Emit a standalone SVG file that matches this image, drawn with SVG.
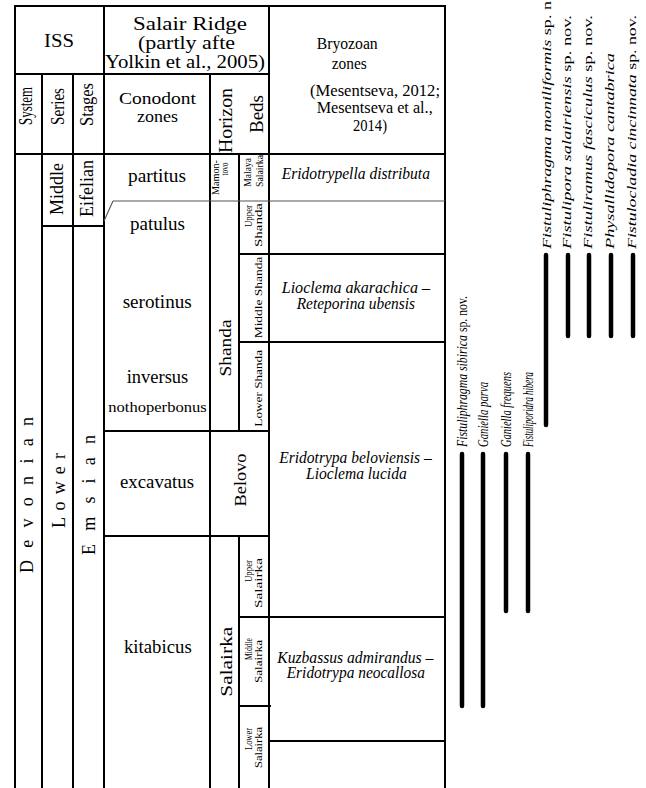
<svg xmlns="http://www.w3.org/2000/svg" width="646" height="788" viewBox="0 0 646 788">
<style>
text{font-family:"Liberation Serif","Times New Roman",serif;fill:#000}
.h{font-size:18px}
.h2{font-size:16px}
.z{font-size:18px}
.bz{font-size:16px;font-style:italic}
.ch{font-size:18px}
.ch2{font-size:16px}
.iss{font-size:18px}
.hz{font-size:17px}
.bd{font-size:11px}
.sm{font-size:10px}
.sp{font-size:13px}
.sp2{font-size:14px}
.it{font-style:italic}
.L{stroke:#000;stroke-width:2;fill:none}
.T{stroke:#555;stroke-width:1.1;fill:none}
.bar{stroke:#000;stroke-width:4.5;stroke-linecap:round}
</style>
<rect width="646" height="788" fill="#fff"/>
<g id="table-lines">
<path class="L" d="M15 788V6H445V788M104 6V788M269 6V788M15 74H269M42 74V788M73 74V788M210 74V788M15 154H445"/>
<path class="L" d="M42 226H104M104 431H269M104 536H269M239 154V431M239 536V788M239 254H445M239 342H445M239 617H445M239 706H271M269 741H445"/>
<path class="T" d="M113 201H445M104 221L113 201"/>
</g>
<g id="header">
<text class="h" x="44" y="46.7" textLength="30" lengthAdjust="spacingAndGlyphs">ISS</text>
<text class="h" x="133" y="30" textLength="114" lengthAdjust="spacingAndGlyphs">Salair Ridge</text>
<text class="h" x="138" y="49" textLength="97" lengthAdjust="spacingAndGlyphs">(partly afte</text>
<text class="h" x="105" y="68" textLength="160" lengthAdjust="spacingAndGlyphs">Yolkin et al., 2005)</text>
<text class="h2" x="316.7" y="49" textLength="61" lengthAdjust="spacingAndGlyphs">Bryozoan</text>
<text class="h2" x="331.7" y="68.5" textLength="35" lengthAdjust="spacingAndGlyphs">zones</text>
<text class="h2" x="310" y="95.5" textLength="130" lengthAdjust="spacingAndGlyphs">(Mesentseva, 2012;</text>
<text class="h2" x="316.7" y="113" textLength="116" lengthAdjust="spacingAndGlyphs">Mesentseva et al.,</text>
<text class="h2" x="353" y="131" textLength="34" lengthAdjust="spacingAndGlyphs">2014)</text>
<text class="h2" x="119" y="104" textLength="77" lengthAdjust="spacingAndGlyphs">Conodont</text>
<text class="h2" x="137" y="122" textLength="41" lengthAdjust="spacingAndGlyphs">zones</text>
<text class="ch" transform="translate(32,106) rotate(-90)" text-anchor="middle" textLength="38" lengthAdjust="spacingAndGlyphs">System</text>
<text class="ch" transform="translate(63.5,106.5) rotate(-90)" text-anchor="middle" textLength="37" lengthAdjust="spacingAndGlyphs">Series</text>
<text class="ch" transform="translate(93,104.5) rotate(-90)" text-anchor="middle" textLength="43" lengthAdjust="spacingAndGlyphs">Stages</text>
<text class="ch" transform="translate(232,120.5) rotate(-90)" text-anchor="middle" textLength="65" lengthAdjust="spacingAndGlyphs">Horizon</text>
<text class="ch" transform="translate(262.5,114) rotate(-90)" text-anchor="middle" textLength="38" lengthAdjust="spacingAndGlyphs">Beds</text>
</g>
<g id="iss">
<text class="iss" transform="translate(33,495) rotate(-90)" text-anchor="middle" textLength="156" lengthAdjust="spacing">D e v o n i a n</text>
<text class="iss" transform="translate(65,490.5) rotate(-90)" text-anchor="middle" textLength="75" lengthAdjust="spacing">L o w e r</text>
<text class="iss" transform="translate(95,495) rotate(-90)" text-anchor="middle" textLength="120" lengthAdjust="spacing">E m s i a n</text>
<text class="ch" transform="translate(63,189) rotate(-90)" text-anchor="middle" textLength="52" lengthAdjust="spacingAndGlyphs">Middle</text>
<text class="ch" transform="translate(93,188.5) rotate(-90)" text-anchor="middle" textLength="57" lengthAdjust="spacingAndGlyphs">Eifelian</text>
</g>
<g id="conodont-zones">
<text class="z" x="128" y="182" textLength="58" lengthAdjust="spacingAndGlyphs">partitus</text>
<text class="z" x="130" y="230" textLength="55" lengthAdjust="spacingAndGlyphs">patulus</text>
<text class="z" x="122.7" y="308" textLength="69" lengthAdjust="spacingAndGlyphs">serotinus</text>
<text class="z" x="126.7" y="383" textLength="61.6" lengthAdjust="spacingAndGlyphs">inversus</text>
<text class="z" x="108.3" y="412" style="font-size:15px" textLength="98.4" lengthAdjust="spacingAndGlyphs">nothoperbonus</text>
<text class="z" x="120" y="488" textLength="74" lengthAdjust="spacingAndGlyphs">excavatus</text>
<text class="z" x="124" y="653" textLength="67.7" lengthAdjust="spacingAndGlyphs">kitabicus</text>
</g>
<g id="horizons">
<text class="sm" transform="translate(219,177.5) rotate(-90)" text-anchor="middle" textLength="35" lengthAdjust="spacingAndGlyphs">Mamon-</text>
<text class="sm" transform="translate(228,169) rotate(-90)" text-anchor="middle" textLength="13" lengthAdjust="spacingAndGlyphs">tovo</text>
<text class="hz" transform="translate(231,348) rotate(-90)" text-anchor="middle" textLength="57" lengthAdjust="spacingAndGlyphs">Shanda</text>
<text class="hz" transform="translate(246,480) rotate(-90)" text-anchor="middle" textLength="53" lengthAdjust="spacingAndGlyphs">Belovo</text>
<text class="hz" transform="translate(232,661.7) rotate(-90)" text-anchor="middle" textLength="70" lengthAdjust="spacingAndGlyphs">Salairka</text>
</g>
<g id="beds">
<text class="bd" transform="translate(251,172.3) rotate(-90)" text-anchor="middle" textLength="28.7" lengthAdjust="spacingAndGlyphs">Malaya</text>
<text class="bd" transform="translate(263,171) rotate(-90)" text-anchor="middle" textLength="32" lengthAdjust="spacingAndGlyphs">Salairka</text>
<text class="bd" transform="translate(251.7,216) rotate(-90)" text-anchor="middle" textLength="22" lengthAdjust="spacingAndGlyphs">Upper</text>
<text class="bd" transform="translate(262,225) rotate(-90)" text-anchor="middle" textLength="44" lengthAdjust="spacingAndGlyphs">Shanda</text>
<text class="bd" transform="translate(262,297.5) rotate(-90)" text-anchor="middle" textLength="81.6" lengthAdjust="spacingAndGlyphs">Middle Shanda</text>
<text class="bd" transform="translate(262,388.3) rotate(-90)" text-anchor="middle" textLength="76.7" lengthAdjust="spacingAndGlyphs">Lower Shanda</text>
<text class="bd" transform="translate(252,571) rotate(-90)" text-anchor="middle" textLength="22" lengthAdjust="spacingAndGlyphs">Upper</text>
<text class="bd" transform="translate(262,583) rotate(-90)" text-anchor="middle" textLength="50" lengthAdjust="spacingAndGlyphs">Salairka</text>
<text class="bd" transform="translate(252,649) rotate(-90)" text-anchor="middle" textLength="22" lengthAdjust="spacingAndGlyphs">Middle</text>
<text class="bd" transform="translate(262,661.5) rotate(-90)" text-anchor="middle" textLength="43" lengthAdjust="spacingAndGlyphs">Salairka</text>
<text class="bd" transform="translate(252,739) rotate(-90)" text-anchor="middle" textLength="22" lengthAdjust="spacingAndGlyphs">Lower</text>
<text class="bd" transform="translate(262,747.5) rotate(-90)" text-anchor="middle" textLength="41" lengthAdjust="spacingAndGlyphs">Salairka</text>
</g>
<g id="bryozoan-zones">
<text class="bz" x="281.7" y="179" textLength="148.3" lengthAdjust="spacingAndGlyphs">Eridotrypella distributa</text>
<text class="bz" x="281.7" y="293.3" textLength="148.3" lengthAdjust="spacingAndGlyphs">Lioclema akarachica –</text>
<text class="bz" x="296.7" y="309.3" textLength="118.3" lengthAdjust="spacingAndGlyphs">Reteporina ubensis</text>
<text class="bz" x="279.3" y="462.7" textLength="152.4" lengthAdjust="spacingAndGlyphs">Eridotrypa beloviensis –</text>
<text class="bz" x="306" y="479.3" textLength="100.7" lengthAdjust="spacingAndGlyphs">Lioclema lucida</text>
<text class="bz" x="277.3" y="662.7" textLength="156" lengthAdjust="spacingAndGlyphs">Kuzbassus admirandus –</text>
<text class="bz" x="286.7" y="678.3" textLength="138.3" lengthAdjust="spacingAndGlyphs">Eridotrypa neocallosa</text>
</g>
<g id="ranges">
<line class="bar" x1="462" y1="454" x2="462" y2="706"/>
<line class="bar" x1="483" y1="454" x2="483" y2="706"/>
<line class="bar" x1="506" y1="454" x2="506" y2="611"/>
<line class="bar" x1="528" y1="454" x2="528" y2="611"/>
<line class="bar" x1="546" y1="255" x2="546" y2="425"/>
<line class="bar" x1="568" y1="255" x2="568" y2="336"/>
<line class="bar" x1="589" y1="255" x2="589" y2="336"/>
<line class="bar" x1="611" y1="255" x2="611" y2="336"/>
<line class="bar" x1="633" y1="255" x2="633" y2="336"/>
</g>
<g id="species">
<text class="sp2" transform="translate(467,447) rotate(-90)" textLength="151" lengthAdjust="spacingAndGlyphs"><tspan class="it">Fistuliphragma sibirica</tspan> sp. nov.</text>
<text class="sp2 it" transform="translate(488,447) rotate(-90)" textLength="65" lengthAdjust="spacingAndGlyphs">Ganiella parva</text>
<text class="sp2 it" transform="translate(511,447) rotate(-90)" textLength="75" lengthAdjust="spacingAndGlyphs">Ganiella frequens</text>
<text class="sp2 it" transform="translate(533,447) rotate(-90)" textLength="75" lengthAdjust="spacingAndGlyphs">Fistuliporidra hibera</text>
<text class="sp" transform="translate(550.5,249) rotate(-90)" textLength="248" lengthAdjust="spacingAndGlyphs"><tspan class="it">Fistuliphragma moniliformis</tspan> sp. n</text>
<text class="sp" transform="translate(570.5,249) rotate(-90)" textLength="234" lengthAdjust="spacingAndGlyphs"><tspan class="it">Fistulipora salairiensis</tspan> sp. nov.</text>
<text class="sp" transform="translate(592,249) rotate(-90)" textLength="234" lengthAdjust="spacingAndGlyphs"><tspan class="it">Fistuliramus fasciculus</tspan> sp. nov.</text>
<text class="sp it" transform="translate(613.5,249) rotate(-90)" textLength="196" lengthAdjust="spacingAndGlyphs">Physallidopora cantabrica</text>
<text class="sp" transform="translate(635.5,249) rotate(-90)" textLength="234" lengthAdjust="spacingAndGlyphs"><tspan class="it">Fistulocladia cincinnata</tspan> sp. nov.</text>
</g>
</svg>
